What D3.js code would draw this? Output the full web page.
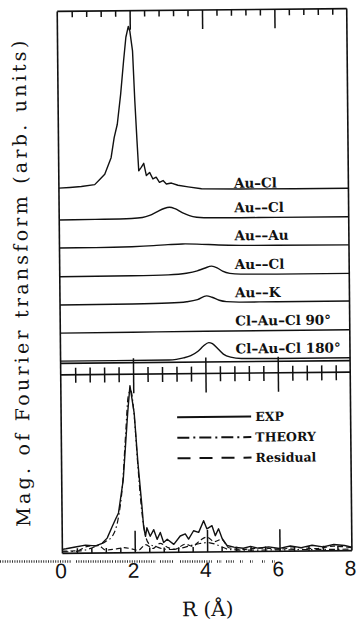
<!DOCTYPE html>
<html>
<head>
<meta charset="utf-8">
<script src="https://cdn.jsdelivr.net/npm/d3@7"></script>
<style>
  html, body { margin: 0; padding: 0; background: #fff; }
  svg { display: block; }
</style>
</head>
<body>
<svg id="chart" width="358" height="621"></svg>
<script>
// ---- data -------------------------------------------------------------
const rDomain = [0, 8];
const rTickValues = [0, 2, 4, 6, 8];
const rTickLabels = ["0", "2", "4", "6", "8"];
const rMinorStep = 0.4;

// calculated single-path contributions, stacked from top to bottom
const shellLabels = ["Au–Cl", "Au––Cl", "Au––Au", "Au––Cl", "Au––K", "Cl–Au–Cl 90°", "Cl–Au–Cl 180°"];
const shellOffsets = [6.03, 5.03, 4.05, 3.04, 2.05, 1.06, 0.08];

const auClFirst = [[0.00,0.12],[0.30,0.14],[0.62,0.17],[0.99,0.23],[1.13,0.41],[1.27,0.59],[1.45,1.17],[1.54,1.87],[1.63,2.34],[1.73,3.39],[1.82,4.56],[1.89,5.39],[1.96,5.77],[2.00,5.61],[2.07,4.91],[2.12,3.16],[2.17,1.75],[2.21,0.70],[2.28,0.82],[2.35,0.96],[2.42,0.53],[2.51,0.64],[2.60,0.41],[2.69,0.47],[2.78,0.29],[2.88,0.35],[2.97,0.23],[3.11,0.26],[3.29,0.18],[3.57,0.12],[3.94,0.05],[5.00,0.03],[6.50,0.02],[8.00,0.02]];
const auClSecond = [[0,0.00],[1.0,0.01],[2.0,0.03],[2.3,0.06],[2.5,0.13],[2.7,0.25],[2.9,0.37],[3.05,0.41],[3.2,0.36],[3.4,0.22],[3.6,0.11],[3.8,0.05],[4.0,0.03],[5.0,0.02],[6.0,0.02],[8.0,0.02]];
const auAu = [[0,0.00],[1.0,0.00],[2.0,0.02],[2.6,0.05],[3.0,0.08],[3.4,0.10],[3.8,0.09],[4.4,0.05],[5.0,0.03],[6.0,0.02],[8.0,0.01]];
const auClThird = [[0,0.00],[2.0,0.01],[3.0,0.03],[3.5,0.08],[3.8,0.16],[4.0,0.25],[4.2,0.32],[4.35,0.26],[4.5,0.14],[4.7,0.06],[5.0,0.03],[6.0,0.02],[8.0,0.02]];
const auK = [[0,0.00],[2.0,0.01],[3.0,0.03],[3.5,0.07],[3.8,0.14],[4.05,0.27],[4.2,0.22],[4.4,0.11],[4.6,0.06],[5.0,0.04],[6.0,0.04],[8.0,0.04]];
const clAuCl90 = [[0,0.00],[2.0,0.01],[4.0,0.02],[6.0,0.02],[8.0,0.02]];
const clAuCl180 = [[0,0.00],[3.0,0.00],[3.2,0.02],[3.4,0.07],[3.6,0.15],[3.8,0.30],[3.95,0.48],[4.1,0.60],[4.2,0.56],[4.35,0.38],[4.5,0.19],[4.7,0.08],[5.0,0.03],[6.0,0.02],[8.0,0.02]];
const shellCurves = [auClFirst, auClSecond, auAu, auClThird, auK, clAuCl90, clAuCl180];
const shellJagged = [true, false, false, false, false, false, false];

// measured transform compared with the fit
const expData = [[0.00,0.14],[0.10,0.16],[0.36,0.22],[0.64,0.28],[0.92,0.25],[1.10,0.34],[1.24,0.52],[1.38,0.92],[1.47,1.16],[1.56,1.40],[1.70,2.56],[1.77,3.73],[1.84,4.90],[1.91,5.86],[2.02,4.90],[2.11,3.15],[2.21,1.62],[2.25,0.92],[2.30,0.57],[2.34,0.87],[2.43,0.57],[2.53,0.80],[2.62,0.46],[2.71,0.70],[2.80,0.35],[2.90,0.46],[3.08,0.28],[3.26,0.57],[3.40,0.64],[3.49,0.46],[3.63,0.75],[3.77,0.69],[3.91,1.10],[4.00,0.81],[4.14,0.92],[4.23,0.57],[4.32,0.81],[4.42,0.46],[4.55,0.22],[4.74,0.16],[5.00,0.12],[5.20,0.18],[5.40,0.12],[5.70,0.16],[6.00,0.10],[6.30,0.18],[6.60,0.12],[6.90,0.20],[7.20,0.14],[7.50,0.22],[7.80,0.18],[8.00,0.12]];
const theoryData = [[0.00,0.05],[0.50,0.08],[1.00,0.28],[1.20,0.40],[1.40,0.62],[1.55,1.20],[1.68,2.40],[1.78,4.20],[1.86,5.50],[1.93,5.70],[2.02,4.80],[2.10,3.20],[2.20,1.50],[2.30,0.60],[2.40,0.30],[2.60,0.20],[2.80,0.12],[3.00,0.10],[3.30,0.15],[3.60,0.25],[3.80,0.30],[4.00,0.33],[4.20,0.28],[4.40,0.18],[4.60,0.08],[5.00,0.05],[6.00,0.05],[8.00,0.05]];
const residualData = [[0.00,0.08],[0.40,0.08],[0.70,0.24],[1.00,0.26],[1.20,0.10],[1.50,0.14],[1.70,0.18],[1.90,0.14],[2.10,0.08],[2.30,0.28],[2.50,0.14],[2.70,0.32],[2.90,0.18],[3.10,0.10],[3.40,0.28],[3.60,0.20],[3.80,0.40],[4.00,0.52],[4.20,0.36],[4.40,0.44],[4.60,0.14],[5.00,0.08],[5.50,0.12],[6.00,0.08],[6.50,0.12],[7.00,0.08],[7.50,0.16],[8.00,0.10]];
const legendLabels = ["EXP", "THEORY", "Residual"];
const legendDashes = [null, "12,4,2,4", "13,9"];

// ---- layout -----------------------------------------------------------
const svg = d3.select("#chart");
const plotLeft = 60, plotRight = 349.5;
const topY0 = 10, topY1 = 362;      // upper (stacked) panel
const botY0 = 373.5, botY1 = 552;   // lower (fit) panel
const unitPx = 28.5;

const x = d3.scaleLinear(rDomain, [plotLeft, plotRight]);
const yTop = d3.scaleLinear([0, (topY1 - topY0) / unitPx], [topY1, topY0]);
const yBot = d3.scaleLinear([0, (botY1 - botY0) / unitPx], [botY1, botY0]);

const minorTicks = d3.range(0, 8.0001, rMinorStep).filter(v => Math.abs(v / 2 - Math.round(v / 2)) > 1e-6);

// whole figure sits slightly tilted on the page
const fig = svg.append("g").attr("transform", "rotate(-0.55,204,300)");

const ink = "#111";

// frame
const frame = fig.append("g").attr("fill", "none").attr("stroke", ink).attr("stroke-width", 1.6);
frame.append("line").attr("x1", plotLeft).attr("x2", plotLeft).attr("y1", topY0).attr("y2", botY1);
frame.append("line").attr("x1", plotRight).attr("x2", plotRight).attr("y1", topY0).attr("y2", botY1);
frame.append("line").attr("x1", plotLeft).attr("x2", plotRight).attr("y1", topY0).attr("y2", topY0);
frame.append("line").attr("x1", plotLeft).attr("x2", plotRight).attr("y1", topY1).attr("y2", topY1);
frame.append("line").attr("x1", plotLeft).attr("x2", plotRight).attr("y1", botY0).attr("y2", botY0);
frame.append("line").attr("x1", plotLeft).attr("x2", plotRight).attr("y1", botY1).attr("y2", botY1);

function tickAxis(gen, y, values, size) {
  const g = fig.append("g").attr("transform", `translate(0,${y})`)
    .call(gen(x).tickValues(values).tickSize(size).tickFormat(""));
  g.select(".domain").remove();
  g.selectAll(".tick line").attr("stroke", ink).attr("stroke-width", 1.5);
  return g;
}

// upper edge ticks, pointing inward
tickAxis(d3.axisBottom, topY0, minorTicks, 6);
tickAxis(d3.axisBottom, topY0, rTickValues.slice(1, -1), 19);
// ticks crossing the lower panel's upper edge
tickAxis(d3.axisBottom, botY0 - 7, minorTicks, 15);
tickAxis(d3.axisBottom, botY0 - 16, rTickValues.slice(1, -1), 35);
// bottom edge ticks, pointing inward
tickAxis(d3.axisTop, botY1, minorTicks, 5);
tickAxis(d3.axisTop, botY1, rTickValues.slice(1, -1), 22);

// tick labels
const labelAxis = fig.append("g").attr("transform", `translate(0,${botY1})`)
  .call(d3.axisBottom(x).tickValues(rTickValues).tickFormat((d, i) => rTickLabels[i]).tickSize(0).tickPadding(10));
labelAxis.select(".domain").remove();
labelAxis.selectAll("text")
  .attr("font-family", "'Liberation Sans', Arial, sans-serif")
  .attr("font-size", 21).attr("fill", ink).attr("dx", -2);

// stacked single-scattering curves
const smoothLine = d3.line().x(d => x(d[0])).curve(d3.curveMonotoneX);
const jaggedLine = d3.line().x(d => x(d[0])).curve(d3.curveLinear);

shellCurves.forEach((curve, i) => {
  const off = shellOffsets[i];
  const gen = (shellJagged[i] ? jaggedLine : smoothLine).y(d => yTop(off + d[1]));
  fig.append("path").datum(curve)
    .attr("d", gen).attr("fill", "none").attr("stroke", ink)
    .attr("stroke-width", 1.4).attr("stroke-linejoin", "round");
  const lift = i === 0 ? 2 : 6;
  fig.append("text")
    .attr("x", 235).attr("y", yTop(off) - lift)
    .attr("font-family", "'DejaVu Serif', serif").attr("font-weight", "bold")
    .attr("font-size", 13.5).attr("fill", ink)
    .text(shellLabels[i]);
});

// lower panel: experiment, theory, residual
const botLine = d3.line().x(d => x(d[0])).y(d => yBot(d[1])).curve(d3.curveLinear);
const botSmooth = d3.line().x(d => x(d[0])).y(d => yBot(d[1])).curve(d3.curveMonotoneX);
fig.append("path").datum(residualData).attr("d", botSmooth)
  .attr("fill", "none").attr("stroke", ink).attr("stroke-width", 1.2).attr("stroke-dasharray", "5,3");
fig.append("path").datum(theoryData).attr("d", botSmooth)
  .attr("fill", "none").attr("stroke", ink).attr("stroke-width", 1.2).attr("stroke-dasharray", "6,3,1.5,3");
fig.append("path").datum(expData).attr("d", botLine)
  .attr("fill", "none").attr("stroke", ink).attr("stroke-width", 1.4).attr("stroke-linejoin", "round");

// legend
const legend = fig.append("g");
legendLabels.forEach((lab, i) => {
  const ly = 417 + i * 20.5;
  legend.append("line").attr("x1", 176).attr("x2", 250).attr("y1", ly).attr("y2", ly)
    .attr("stroke", ink).attr("stroke-width", 2)
    .attr("stroke-dasharray", legendDashes[i]);
  legend.append("text").attr("x", 254).attr("y", ly + 4.5)
    .attr("font-family", "'DejaVu Serif', serif").attr("font-weight", "bold")
    .attr("font-size", 12.5).attr("fill", ink).text(lab);
});

// axis titles
fig.append("text")
  .attr("transform", "translate(28,282) rotate(-90)")
  .attr("text-anchor", "middle")
  .attr("font-family", "'DejaVu Serif', serif").attr("font-size", 19).attr("fill", ink)
  .attr("textLength", 486).attr("lengthAdjust", "spacing")
  .text("Mag. of Fourier transform (arb. units)");

fig.append("text")
  .attr("x", (plotLeft + plotRight) / 2).attr("y", 616)
  .attr("text-anchor", "middle")
  .attr("font-family", "'DejaVu Serif', serif").attr("font-size", 20).attr("fill", ink)
  .text("R (Å)");

// faint dotted rule running under the axis
const dotRuns = [[0,72],[76,113],[115,156],[160,173],[180,212],[217,222],[226,234],[240,243],[250,253],[262,265],[272,275]];
svg.append("g").selectAll("line").data(dotRuns).join("line")
  .attr("x1", d => d[0]).attr("x2", d => d[1]).attr("y1", 561.5).attr("y2", 561.5)
  .attr("stroke", "#333").attr("stroke-width", 2.5).attr("stroke-dasharray", "1,1.4");
</script>
</body>
</html>
